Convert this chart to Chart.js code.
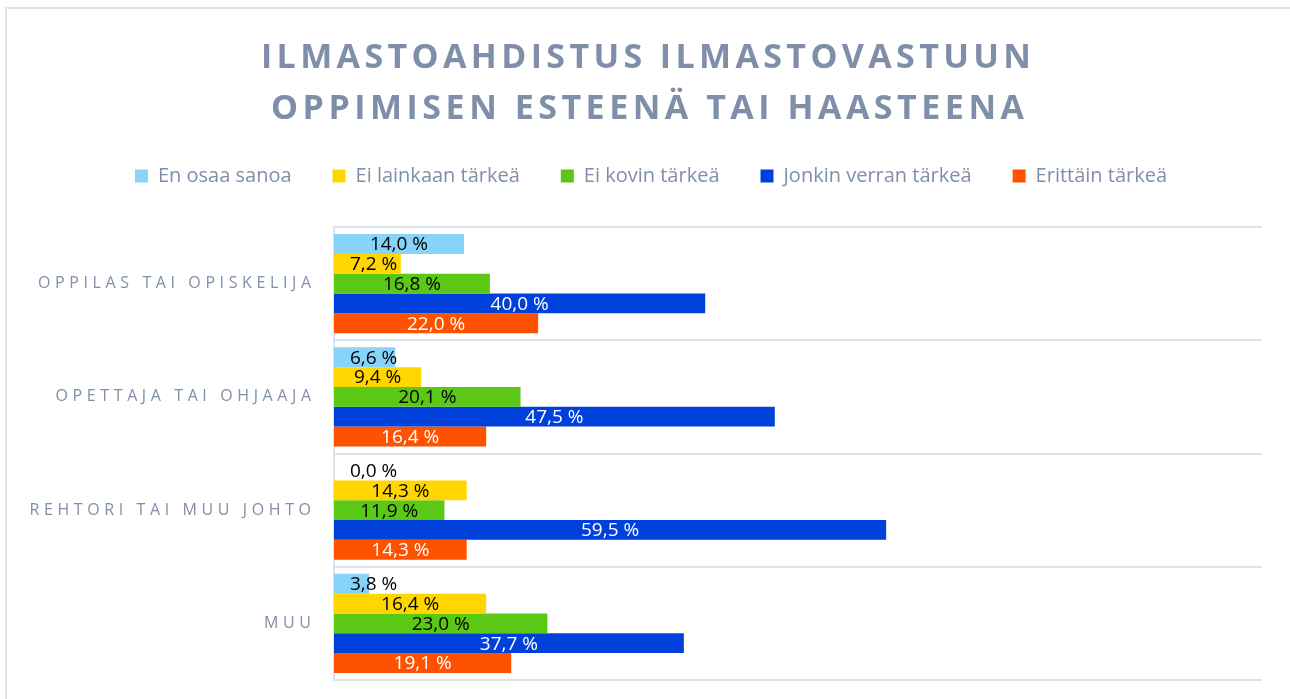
<!DOCTYPE html>
<html>
<head>
<meta charset="utf-8">
<script src="https://cdn.jsdelivr.net/npm/chart.js@4"></script>
<style>
  html, body { margin: 0; padding: 0; background: #ffffff; }
  #wrap { width: 1290px; height: 699px; position: relative; }
</style>
</head>
<body>
<div id="wrap"><canvas id="c" width="1290" height="699"></canvas></div>
<script>
const titleLines = ['ILMASTOAHDISTUS ILMASTOVASTUUN', 'OPPIMISEN ESTEENÄ TAI HAASTEENA'];
const categories = ['OPPILAS TAI OPISKELIJA', 'OPETTAJA TAI OHJAAJA', 'REHTORI TAI MUU JOHTO', 'MUU'];
const seriesNames = ['En osaa sanoa', 'Ei lainkaan tärkeä', 'Ei kovin tärkeä', 'Jonkin verran tärkeä', 'Erittäin tärkeä'];
const enOsaaSanoa = [14.0, 6.6, 0.0, 3.8];
const eiLainkaan = [7.2, 9.4, 14.3, 16.4];
const eiKovin = [16.8, 20.1, 11.9, 23.0];
const jonkinVerran = [40.0, 47.5, 59.5, 37.7];
const erittain = [22.0, 16.4, 14.3, 19.1];
const seriesColors = ['#87D3F9', '#FFD600', '#5CC816', '#0041DB', '#FF5200'];
const labelColors = ['#000000', '#000000', '#000000', '#ffffff', '#ffffff'];
const seriesValues = [enOsaaSanoa, eiLainkaan, eiKovin, jonkinVerran, erittain];

const TEXT_BLUE = '#7F8FA9';
const GRID = '#dde3ea';
const LEGEND_TOP = 125;
const PLOT_TOP = 227;
const LEGEND_SHIFT_X = 20;

function drawSpaced(ctx, text, x, y, spacing) {
  let cx = x;
  for (const ch of text) {
    ctx.fillText(ch, cx, y);
    cx += ctx.measureText(ch).width + spacing;
  }
}
function spacedWidth(ctx, text, spacing) {
  let w = 0; const chars = [...text];
  for (const ch of chars) w += ctx.measureText(ch).width;
  return w + spacing * (chars.length - 1);
}

const framePlugin = {
  id: 'frame',
  beforeLayout(chart) {
    const lg = chart.legend;
    if (lg && !lg._fitWrapped) {
      const origFit = lg.fit;
      lg.fit = function () {
        origFit.call(this);
        this.height = PLOT_TOP - LEGEND_TOP;
      };
      const origDraw = lg.draw;
      lg.draw = function () {
        const ctx = this.ctx;
        ctx.save();
        ctx.translate(LEGEND_SHIFT_X, 0);
        origDraw.apply(this, arguments);
        ctx.restore();
      };
      lg._fitWrapped = true;
    }
  },
  beforeDraw(chart) {
    const ctx = chart.ctx;
    ctx.save();
    ctx.fillStyle = '#ffffff';
    ctx.fillRect(0, 0, chart.width, chart.height);
    ctx.strokeStyle = GRID;
    ctx.lineWidth = 2;
    ctx.strokeRect(6, 8, chart.width + 20, chart.height + 20);
    ctx.restore();
  }
};

const titlePlugin = {
  id: 'spacedTitle',
  afterDraw(chart) {
    const ctx = chart.ctx;
    ctx.save();
    ctx.fillStyle = TEXT_BLUE;
    ctx.font = 'bold 34px "Open Sans"';
    ctx.textBaseline = 'alphabetic';
    ctx.textAlign = 'left';
    const targets = [[261, 1031, 67.5], [271, 1024, 118.5]];
    titleLines.forEach((line, i) => {
      const [l, r, y] = targets[i];
      const n = [...line].length;
      const natural = spacedWidth(ctx, line, 0);
      const s = (r - l - natural) / (n - 1);
      drawSpaced(ctx, line, l, y, s);
    });
    ctx.restore();
  }
};

const yLabelPlugin = {
  id: 'spacedYLabels',
  afterDraw(chart) {
    const ctx = chart.ctx;
    const ys = chart.scales.y;
    ctx.save();
    ctx.fillStyle = TEXT_BLUE;
    ctx.font = '16px "Open Sans"';
    ctx.textBaseline = 'middle';
    ctx.textAlign = 'left';
    const first = categories[0];
    const s = (273 - spacedWidth(ctx, first, 0)) / ([...first].length - 1);
    const right = chart.chartArea.left - 23;
    categories.forEach((cat, i) => {
      const w = spacedWidth(ctx, cat, s);
      drawSpaced(ctx, cat, right - w, ys.getPixelForValue(i), s);
    });
    ctx.restore();
  }
};

const dataLabelPlugin = {
  id: 'barLabels',
  afterDatasetsDraw(chart) {
    const ctx = chart.ctx;
    ctx.save();
    ctx.font = '19px "Open Sans"';
    ctx.textBaseline = 'middle';
    ctx.textAlign = 'center';
    chart.data.datasets.forEach((ds, di) => {
      const meta = chart.getDatasetMeta(di);
      meta.data.forEach((el, i) => {
        const v = ds.data[i];
        const txt = v.toFixed(1).replace('.', ',') + ' %';
        const w = ctx.measureText(txt).width;
        const base = el.base;
        const cx = Math.max((base + el.x) / 2, base + 16 + w / 2);
        ctx.fillStyle = labelColors[di];
        ctx.fillText(txt, cx, el.y + 1);
      });
    });
    ctx.restore();
  }
};

new Chart(document.getElementById('c'), {
  type: 'bar',
  data: {
    labels: categories,
    datasets: seriesNames.map((name, i) => ({
      label: name,
      data: seriesValues[i],
      backgroundColor: seriesColors[i],
      borderWidth: 0,
      categoryPercentage: 0.875,
      barPercentage: 1.0
    }))
  },
  options: {
    indexAxis: 'y',
    responsive: false,
    animation: false,
    layout: { padding: { top: LEGEND_TOP, bottom: 19, left: 0, right: 28 } },
    scales: {
      x: { display: false, min: 0, max: 100 },
      y: {
        offset: true,
        ticks: { display: false },
        grid: { offset: true, color: GRID, lineWidth: 2, drawTicks: false },
        border: { color: GRID, width: 2 },
        afterFit(scale) { scale.width = 334; }
      }
    },
    plugins: {
      title: { display: false },
      tooltip: { enabled: false },
      legend: {
        position: 'top',
        labels: {
          color: TEXT_BLUE,
          font: { family: '"Open Sans"', size: 20 },
          boxWidth: 13,
          boxHeight: 13,
          padding: 41
        }
      }
    }
  },
  plugins: [framePlugin, titlePlugin, yLabelPlugin, dataLabelPlugin]
});
</script>
</body>
</html>
